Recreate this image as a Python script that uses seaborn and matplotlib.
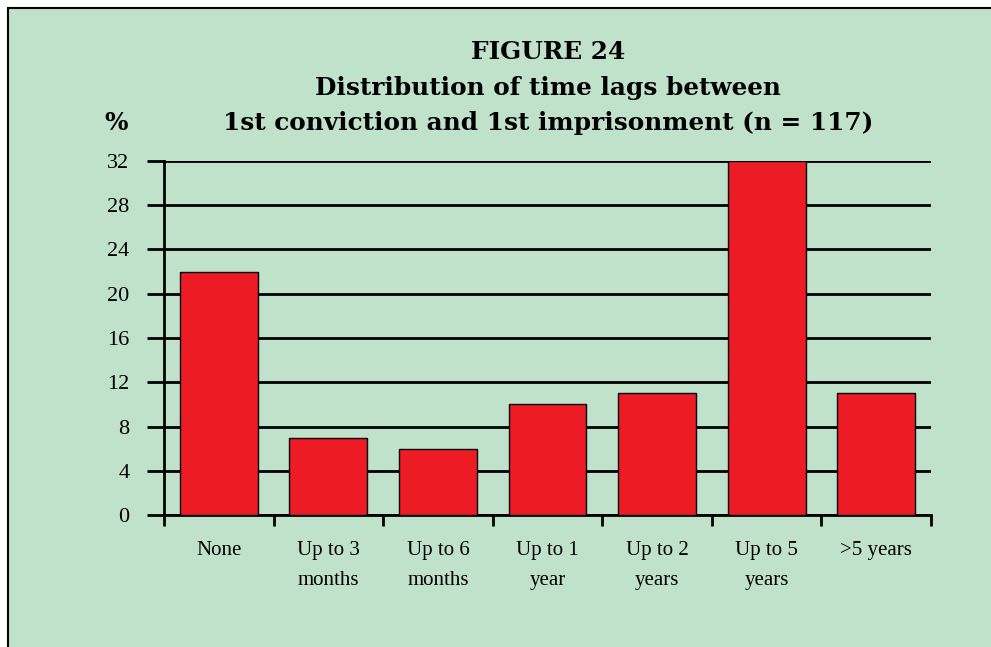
import matplotlib
matplotlib.use("Agg")
import matplotlib.pyplot as plt
import seaborn as sns
import pandas as pd
from matplotlib.patches import Rectangle

categories = ["None", "Up to 3\nmonths", "Up to 6\nmonths", "Up to 1\nyear",
              "Up to 2\nyears", "Up to 5\nyears", ">5 years"]
percent = [22, 7, 6, 10, 11, 32, 11]
y_ticks = [0, 4, 8, 12, 16, 20, 24, 28, 32]

df = pd.DataFrame({"lag": categories, "pct": percent})

bg = "#C0E2CB"
red = "#ED1C24"

sns.set_style("white")
plt.rcParams["font.family"] = ["Liberation Serif", "DejaVu Serif"]
plt.rcParams["text.color"] = "black"
plt.rcParams["xtick.color"] = "black"
plt.rcParams["ytick.color"] = "black"

fig = plt.figure(figsize=(9.91, 6.47), dpi=100)
fig.patch.set_facecolor("white")
# green panel, framed on top and left
fig.patches.append(Rectangle((8 / 991, -0.01), 1.01, 1 - 8 / 647 + 0.01,
                             transform=fig.transFigure, facecolor=bg,
                             edgecolor="black", linewidth=1.5, zorder=-5))

ax = fig.add_axes([164 / 991, 1 - 515 / 647, (931 - 164) / 991, (515 - 161) / 647])
ax.set_facecolor("none")
ax.set_zorder(2)

sns.barplot(data=df, x="lag", y="pct", color=red, width=0.71,
            edgecolor="black", linewidth=1.0, saturation=1, ax=ax, zorder=3)

ax.set_xlim(-0.5, len(categories) - 0.5)
ax.set_ylim(0, 32)
ax.set_yticks(y_ticks)
ax.yaxis.grid(True, color="black", linewidth=2.0, zorder=1)
ax.set_axisbelow(True)

for s in ["top", "right"]:
    ax.spines[s].set_visible(False)
for s in ["left", "bottom"]:
    ax.spines[s].set_linewidth(2.0)
    ax.spines[s].set_color("black")

ax.tick_params(axis="y", left=True, direction="out", length=12, width=2.0,
               labelsize=16, pad=13)
ax.tick_params(axis="x", which="major", bottom=False, length=0, labelsize=15, pad=19)
ax.set_xticks([i - 0.5 for i in range(len(categories) + 1)], minor=True)
ax.tick_params(axis="x", which="minor", bottom=True, direction="out", length=8, width=2.0)
for lab in ax.get_xticklabels():
    lab.set_linespacing(1.75)

ax.set_xlabel("")
ax.set_ylabel("")

title_font = dict(family="DejaVu Serif", fontsize=17.8, fontweight="bold",
                  ha="center", va="center")
fig.text(548 / 991, 1 - 52 / 647, "FIGURE 24", **title_font)
fig.text(548 / 991, 1 - 88 / 647, "Distribution of time lags between", **title_font)
fig.text(548 / 991, 1 - 123 / 647, "1st conviction and 1st imprisonment (n = 117)",
         **title_font)
fig.text(116 / 991, 1 - 123 / 647, "%", **title_font)

fig.savefig("out.png", dpi=100)
